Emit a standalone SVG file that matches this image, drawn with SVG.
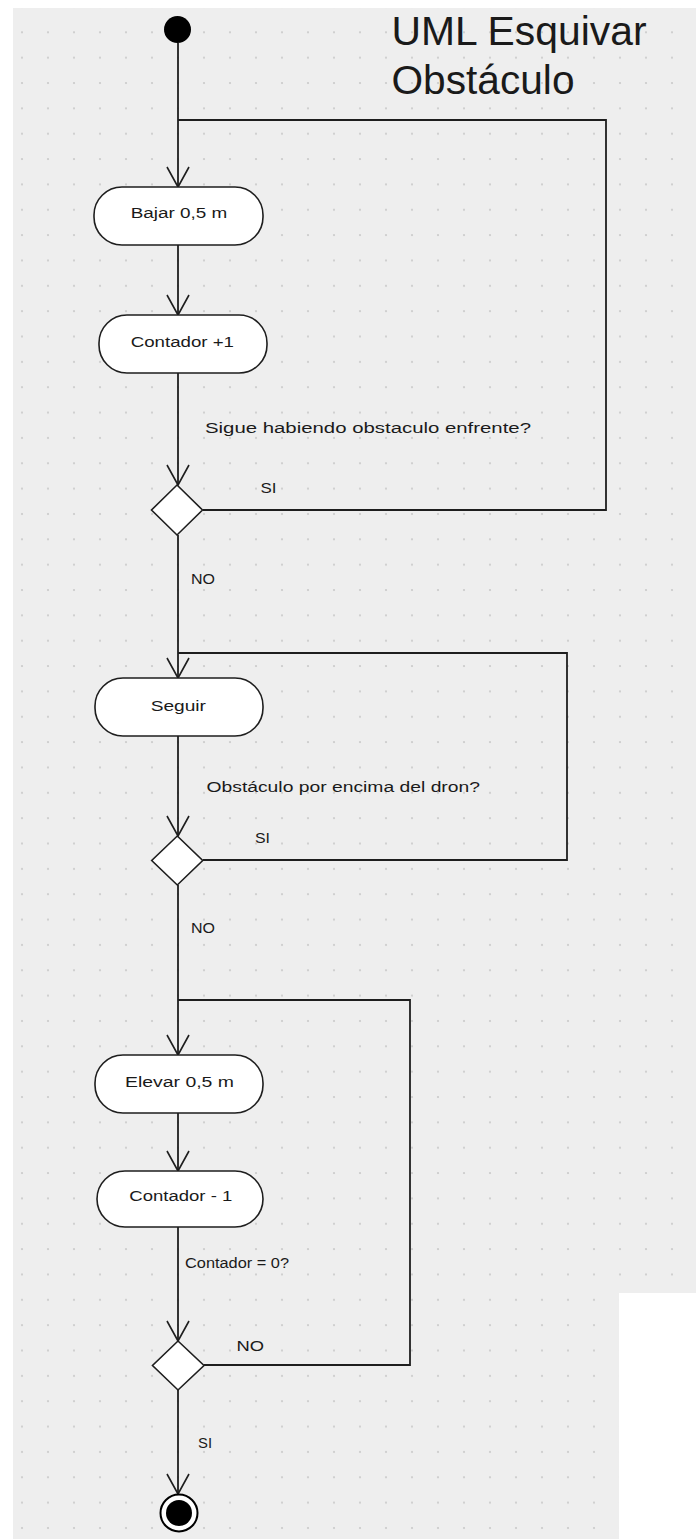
<svg xmlns="http://www.w3.org/2000/svg" width="696" height="1539" viewBox="0 0 696 1539">
  <style>
    .edge { fill: none; stroke: #1e1e1e; stroke-width: 1.8; }
    .action { fill: #ffffff; stroke: #1e1e1e; stroke-width: 1.6; }
    .decision { fill: #ffffff; stroke: #1e1e1e; stroke-width: 1.6; }
    .lbl { font-family: "Liberation Sans", Arial, sans-serif; font-size: 15.5px; fill: #1a1a1a; }
    .title { font-family: "Liberation Sans", Arial, sans-serif; font-size: 41px; fill: #1a1a1a; }
  </style>
  <defs>
    <pattern id="grid" x="9" y="19.6" width="26" height="25.35" patternUnits="userSpaceOnUse">
      <circle cx="13" cy="12.7" r="1.1" fill="#cacaca"/>
    </pattern>
    <marker id="open" viewBox="-22 -13 24 26" refX="0" refY="0" markerWidth="24" markerHeight="26" markerUnits="userSpaceOnUse" orient="auto">
      <path d="M-20,-11 L0,0 L-20,11" fill="none" stroke="#1e1e1e" stroke-width="1.6"/>
    </marker>
  </defs>

  <!-- canvas -->
  <rect x="0" y="0" width="696" height="1539" fill="#ffffff"/>
  <rect x="13" y="8" width="683" height="1531" fill="#eeeeee"/>
  <rect x="13" y="8" width="683" height="1531" fill="url(#grid)"/>
  <rect x="619" y="1293" width="77" height="246" fill="#ffffff"/>

  <!-- title -->
  <g id="title">
    <text class="title" x="391.5" y="45" textLength="255" lengthAdjust="spacingAndGlyphs">UML Esquivar</text>
    <text class="title" x="391.5" y="94" textLength="183" lengthAdjust="spacingAndGlyphs">Obstáculo</text>
  </g>

  <!-- connectors -->
  <g id="connectors">
    <line class="edge" x1="178" y1="43" x2="178" y2="187" marker-end="url(#open)"/>
    <polyline class="edge" points="178,120 606,120 606,510 203,510"/>
    <line class="edge" x1="178" y1="245" x2="178" y2="315" marker-end="url(#open)"/>
    <line class="edge" x1="178" y1="373" x2="178" y2="485" marker-end="url(#open)"/>
    <line class="edge" x1="178" y1="535" x2="178" y2="678" marker-end="url(#open)"/>
    <polyline class="edge" points="178,653 567,653 567,860 203,860"/>
    <line class="edge" x1="178" y1="736" x2="178" y2="836" marker-end="url(#open)"/>
    <line class="edge" x1="178" y1="885" x2="178" y2="1055" marker-end="url(#open)"/>
    <polyline class="edge" points="178,1000 410,1000 410,1365 204,1365"/>
    <line class="edge" x1="178" y1="1113" x2="178" y2="1171" marker-end="url(#open)"/>
    <line class="edge" x1="178" y1="1227" x2="178" y2="1341" marker-end="url(#open)"/>
    <line class="edge" x1="178" y1="1390" x2="178" y2="1494" marker-end="url(#open)"/>

    <text class="lbl" x="205" y="433" textLength="326" lengthAdjust="spacingAndGlyphs">Sigue habiendo obstaculo enfrente?</text>
    <text class="lbl" x="260.5" y="493" textLength="16" lengthAdjust="spacingAndGlyphs">SI</text>
    <text class="lbl" x="191" y="584" textLength="24" lengthAdjust="spacingAndGlyphs">NO</text>
    <text class="lbl" x="206.5" y="792" textLength="273.5" lengthAdjust="spacingAndGlyphs">Obstáculo por encima del dron?</text>
    <text class="lbl" x="255" y="842.5" textLength="15" lengthAdjust="spacingAndGlyphs">SI</text>
    <text class="lbl" x="191" y="933" textLength="24" lengthAdjust="spacingAndGlyphs">NO</text>
    <text class="lbl" x="185" y="1268" textLength="104" lengthAdjust="spacingAndGlyphs">Contador = 0?</text>
    <text class="lbl" x="236.5" y="1350.7" textLength="27.5" lengthAdjust="spacingAndGlyphs">NO</text>
    <text class="lbl" x="198" y="1448" textLength="14" lengthAdjust="spacingAndGlyphs">SI</text>
  </g>

  <!-- start -->
  <g id="start">
    <circle cx="177.5" cy="29.5" r="13.5" fill="#000000"/>
  </g>

  <!-- actions -->
  <g id="bajar">
    <rect class="action" x="94" y="187" width="169" height="58" rx="28" ry="28"/>
    <text class="lbl" x="130.7" y="217.7" textLength="96.6" lengthAdjust="spacingAndGlyphs">Bajar 0,5 m</text>
  </g>
  <g id="contador-mas">
    <rect class="action" x="99" y="315" width="168" height="58" rx="28" ry="28"/>
    <text class="lbl" x="130.7" y="346.7" textLength="103.3" lengthAdjust="spacingAndGlyphs">Contador +1</text>
  </g>
  <g id="decision-obstaculo">
    <polygon class="decision" points="177,485 202.5,510 177,535 151.5,510"/>
  </g>
  <g id="seguir">
    <rect class="action" x="95" y="678" width="168" height="58" rx="28" ry="28"/>
    <text class="lbl" x="150.7" y="710.7" textLength="55.3" lengthAdjust="spacingAndGlyphs">Seguir</text>
  </g>
  <g id="decision-encima">
    <polygon class="decision" points="177.3,836 202.7,860.5 177.3,885 151.7,860.5"/>
  </g>
  <g id="elevar">
    <rect class="action" x="95" y="1055" width="168" height="58" rx="28" ry="28"/>
    <text class="lbl" x="125" y="1086.7" textLength="109" lengthAdjust="spacingAndGlyphs">Elevar 0,5 m</text>
  </g>
  <g id="contador-menos">
    <rect class="action" x="97" y="1171" width="166" height="56" rx="28" ry="28"/>
    <text class="lbl" x="129.3" y="1200.5" textLength="103" lengthAdjust="spacingAndGlyphs">Contador - 1</text>
  </g>
  <g id="decision-cero">
    <polygon class="decision" points="178,1341 204,1365.5 178,1390 152.5,1365.5"/>
  </g>

  <!-- end -->
  <g id="end">
    <circle cx="179" cy="1513" r="18.5" fill="#ffffff" stroke="#000000" stroke-width="2"/>
    <circle cx="179" cy="1513" r="13" fill="#000000"/>
  </g>
</svg>
